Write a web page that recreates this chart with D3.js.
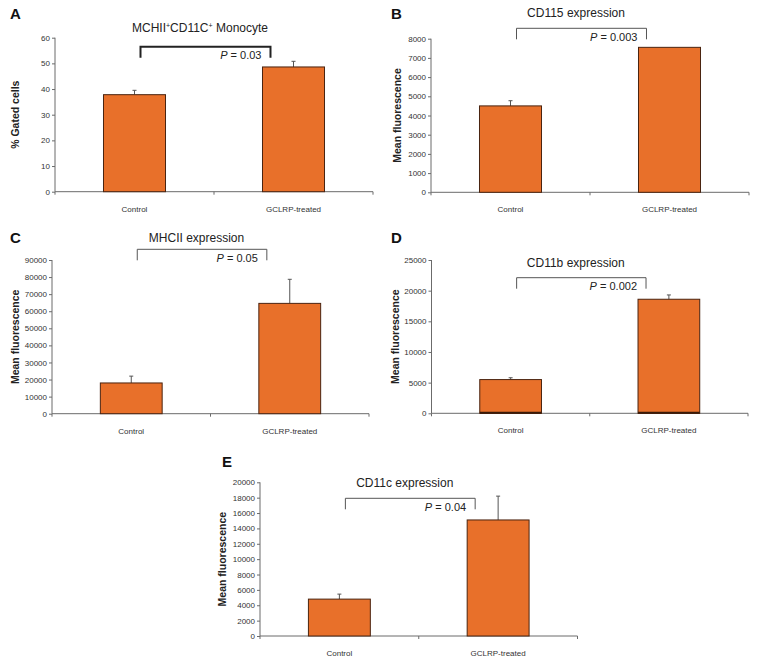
<!DOCTYPE html>
<html>
<head>
<meta charset="utf-8">
<script src="https://cdn.jsdelivr.net/npm/d3@7"></script>
<style>
  body { margin: 0; background: #fff; }
  svg { display: block; font-family: "Liberation Sans", Arial, sans-serif; }
</style>
</head>
<body>
<svg id="chart" width="758" height="665"></svg>
<script>
// ---------------- data ----------------
const categories = ["Control", "GCLRP-treated"];

const panelLetters = ["A", "B", "C", "D", "E"];
const panelTitles = ["MCHII+CD11C+ Monocyte", "CD115 expression", "MHCII expression", "CD11b expression", "CD11c expression"];
const yLabels = ["% Gated cells", "Mean fluorescence", "Mean fluorescence", "Mean fluorescence", "Mean fluorescence"];
const pValues = ["0.03", "0.003", "0.05", "0.002", "0.04"];

const meansA = [37.8, 48.6];
const errA = [1.7, 2.2];
const meansB = [4500, 7550];
const errB = [270, 0];
const meansC = [18000, 64600];
const errC = [4000, 14100];
const meansD = [5500, 18600];
const errD = [300, 700];
const meansE = [4800, 15100];
const errE = [650, 3100];

const yMaxes = [60, 8000, 90000, 25000, 20000];
const yTickSteps = [10, 1000, 10000, 5000, 2000];

// ---------------- layout ----------------
const layouts = [
  { x0: 55,  x1: 373, yT: 37.7, yB: 191.7, lx: 10,  ly: 19,  tY: 32,  brY: 46.7,  labX: 15 },
  { x0: 431, x1: 749, yT: 38.7, yB: 192.3, lx: 391, ly: 19,  tY: 17,  brY: 28.3,  labX: 397 },
  { x0: 52,  x1: 369, yT: 260,  yB: 413.7, lx: 10,  ly: 243, tY: 241.5, brY: 249.3, labX: 15 },
  { x0: 431.5, x1: 748, yT: 260, yB: 413.3, lx: 391, ly: 243, tY: 266.5, brY: 277.7, labX: 395 },
  { x0: 260, x1: 577.5, yT: 482.3, yB: 636, lx: 222, ly: 467, tY: 486.5, brY: 498.3, labX: 222 }
];

const means = [meansA, meansB, meansC, meansD, meansE];
const errs = [errA, errB, errC, errD, errE];

const barFill = "#E8702A";
const barStroke = "#4a2410";
const axisColor = "#6b6b6b";
const textColor = "#333";

const svg = d3.select("#chart");

layouts.forEach((L, i) => {
  const g = svg.append("g");
  const x = d3.scaleBand().domain(categories).range([L.x0, L.x1]).paddingInner(0.61).paddingOuter(0.305);
  const y = d3.scaleLinear().domain([0, yMaxes[i]]).range([L.yB, L.yT]);
  const ticks = d3.range(0, yMaxes[i] + yTickSteps[i] / 2, yTickSteps[i]);

  // y axis
  const yAxis = d3.axisLeft(y).tickValues(ticks).tickSize(3).tickPadding(2).tickFormat(d3.format("d"));
  const ya = g.append("g").attr("transform", `translate(${L.x0},0)`).call(yAxis);
  ya.select(".domain").attr("stroke", axisColor).attr("d", `M-0,${L.yT}V${L.yB}`);
  ya.selectAll(".tick line").attr("stroke", axisColor);
  ya.selectAll(".tick text").attr("fill", textColor).style("font-size", "8px").style("font-family", "Liberation Sans, Arial, sans-serif");

  // x axis
  const xa = g.append("g").attr("transform", `translate(0,${L.yB})`);
  xa.append("line").attr("x1", L.x0).attr("x2", L.x1).attr("stroke", axisColor);
  const xTickPos = [L.x0, (L.x0 + L.x1) / 2, L.x1];
  xa.selectAll("line.t").data(xTickPos).join("line").attr("class", "t")
    .attr("x1", d => d).attr("x2", d => d).attr("y1", 0).attr("y2", 3).attr("stroke", axisColor);
  xa.selectAll("text").data(categories).join("text")
    .attr("x", d => x(d) + x.bandwidth() / 2).attr("y", 20)
    .attr("text-anchor", "middle").attr("fill", textColor).style("font-size", "8px").text(d => d);

  // error bars (upward)
  const data = categories.map((c, k) => ({ c, m: means[i][k], e: errs[i][k] }));
  data.filter(d => d.e > 0).forEach(d => {
    const cx = x(d.c) + x.bandwidth() / 2;
    g.append("line").attr("x1", cx).attr("x2", cx).attr("y1", y(d.m)).attr("y2", y(d.m + d.e))
      .attr("stroke", "#555").attr("stroke-width", 1);
    g.append("line").attr("x1", cx - 2).attr("x2", cx + 2).attr("y1", y(d.m + d.e)).attr("y2", y(d.m + d.e))
      .attr("stroke", "#555").attr("stroke-width", 1);
  });

  // bars
  g.selectAll("rect.bar").data(data).join("rect").attr("class", "bar")
    .attr("x", d => x(d.c)).attr("width", x.bandwidth())
    .attr("y", d => y(d.m)).attr("height", d => y(0) - y(d.m))
    .attr("fill", barFill).attr("stroke", barStroke).attr("stroke-width", 1);

  if (i === 3) {
    g.selectAll("line.bb").data(data).join("line").attr("class", "bb")
      .attr("x1", d => x(d.c)).attr("x2", d => x(d.c) + x.bandwidth())
      .attr("y1", L.yB - 0.5).attr("y2", L.yB - 0.5).attr("stroke", "#3a1a08").attr("stroke-width", 2);
  }

  // bracket
  const bx1 = x(categories[0]) + x.bandwidth() / 2 + 6;
  const bx2 = x(categories[1]) + 8;
  g.append("path")
    .attr("d", `M${bx1},${L.brY + 11}V${L.brY}H${bx2}V${L.brY + 11}`)
    .attr("fill", "none").attr("stroke", i === 0 ? "#222" : "#555").attr("stroke-width", i === 0 ? 2 : 1);
  const pt = g.append("text").attr("x", bx2 - 9).attr("y", L.brY + 12.5).attr("text-anchor", "end")
    .attr("fill", "#222").style("font-size", "11px");
  pt.append("tspan").attr("font-style", "italic").text("P");
  pt.append("tspan").text(" = " + pValues[i]);

  // title
  const tx = (L.x0 + L.x1) / 2 - 14;
  const tt = g.append("text").attr("x", tx).attr("y", L.tY).attr("text-anchor", "middle")
    .attr("fill", "#222").style("font-size", "12px");
  if (i === 0) {
    tt.append("tspan").text("MCHII");
    tt.append("tspan").attr("dy", -4).style("font-size", "7px").text("+");
    tt.append("tspan").attr("dy", 4).text("CD11C");
    tt.append("tspan").attr("dy", -4).style("font-size", "7px").text("+");
    tt.append("tspan").attr("dy", 4).text(" Monocyte");
  } else {
    tt.text(panelTitles[i]);
  }

  // y label
  g.append("text").attr("transform", `translate(${L.labX + 4},${(L.yT + L.yB) / 2}) rotate(-90)`)
    .attr("text-anchor", "middle").attr("fill", "#222").style("font-size", "10.5px").style("font-weight", "bold")
    .text(yLabels[i]);

  // panel letter
  g.append("text").attr("x", L.lx).attr("y", L.ly).attr("fill", "#111")
    .style("font-size", "15px").style("font-weight", "bold").text(panelLetters[i]);
});
</script>
</body>
</html>
